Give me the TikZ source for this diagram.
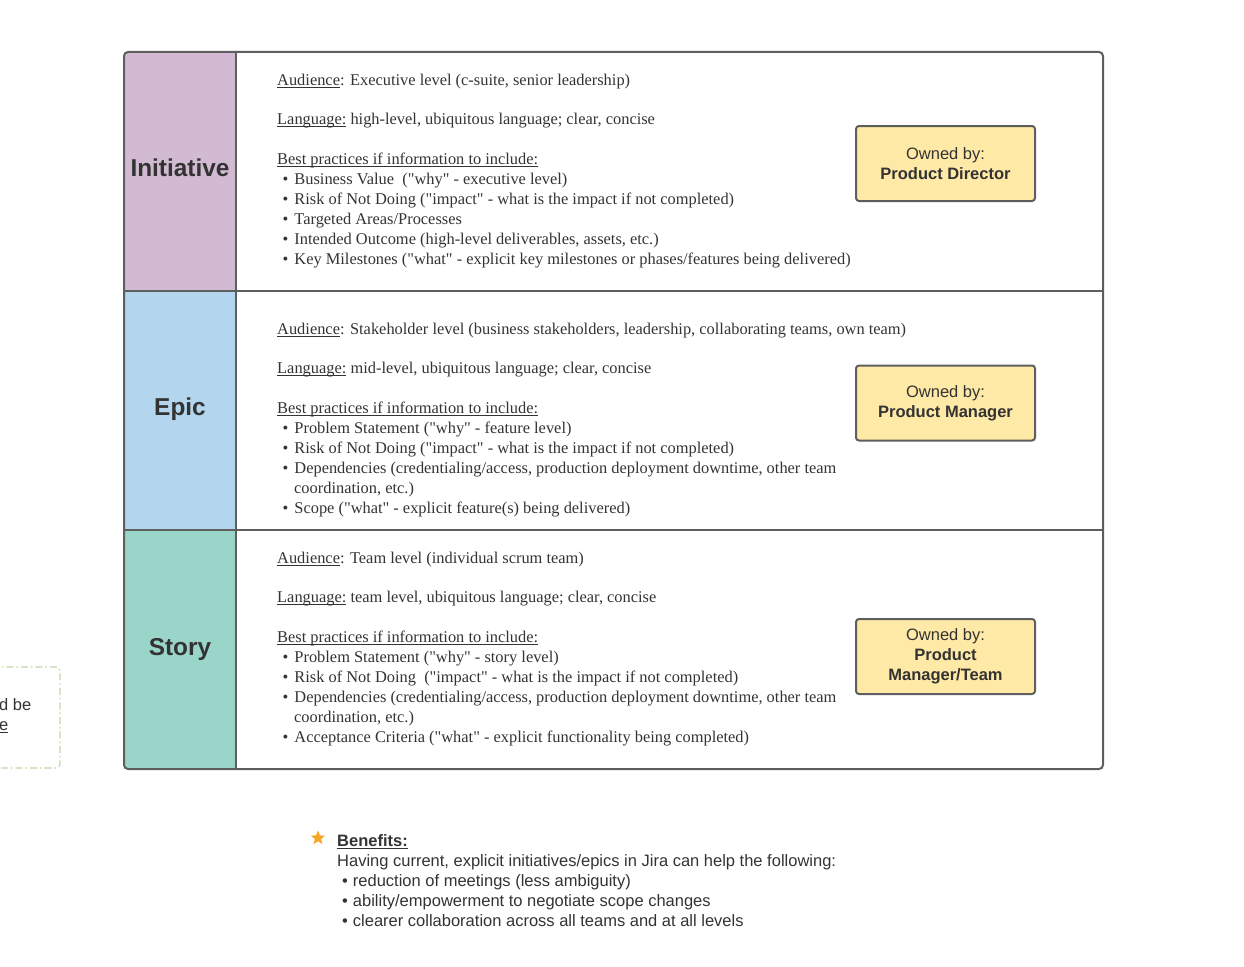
\documentclass[tikz,border=0pt]{standalone}
\usepackage{fontspec}
\setmainfont{Liberation Serif}[Ligatures=TeXOff]
\newfontfamily\sansf{Liberation Sans}
\usetikzlibrary{shapes.geometric}
\definecolor{lineC}{HTML}{5E5E5E}
\definecolor{txtC}{HTML}{333333}
\definecolor{iniC}{HTML}{D2BBD2}
\definecolor{epiC}{HTML}{B3D5EE}
\definecolor{stoC}{HTML}{9AD5CA}
\definecolor{ownC}{HTML}{FFE9A6}
\definecolor{dashC}{HTML}{BFD9A8}
\definecolor{starC}{HTML}{F5A623}
\newcommand\myul[1]{\setbox0\hbox{#1}\rlap{\rule[-2.2pt]{\wd0}{0.7pt}}\box0\relax}
\newcommand\dq{\char34\relax}
\newcommand\bul{\hspace*{5.5pt}\textbullet\hspace{6pt}}
\newcommand\cont{\hspace*{17pt}}
\newcommand\sbul{\hspace*{5pt}\textbullet\hspace{5pt}}
\tikzset{
  tbl/.style={draw=lineC, line width=2pt},
  txt/.style={anchor=base west, inner sep=0pt, text=txtC, font=\fontsize{16.4}{19}\selectfont},
  ttl/.style={anchor=base, inner sep=0pt, text=txtC, font=\sansf\bfseries\fontsize{24.4}{28}\selectfont},
  own/.style={draw=lineC, line width=2pt, fill=ownC, rounded corners=3pt, minimum width=179pt, minimum height=75pt, align=center, text=txtC, font=\sansf\fontsize{16.5}{20}\selectfont},
  bt/.style={anchor=base west, inner sep=0pt, text=txtC, font=\sansf\fontsize{16.5}{20}\selectfont},
}
\begin{document}
\begin{tikzpicture}[x=1pt,y=-1pt]
\useasboundingbox (0,0) rectangle (1244,966);
% table
\begin{scope}
\clip[rounded corners=4pt] (124,52) rectangle (1103,769);
\fill[iniC] (124,52) rectangle (236,291);
\fill[epiC] (124,291) rectangle (236,530);
\fill[stoC] (124,530) rectangle (236,769);
\end{scope}
\draw[tbl, rounded corners=4pt] (124,52) rectangle (1103,769);
\draw[tbl] (236,52) -- (236,769);
\draw[tbl] (124,291) -- (1103,291);
\draw[tbl] (124,530) -- (1103,530);
% titles
\node[ttl] (tI) at (180,176) {Initiative};
\node[ttl] (tE) at (180,415) {Epic};
\node[ttl] (tS) at (180,655) {Story};
% initiative text
\node[txt] (i1) at (277,85) {\myul{Audience}: Executive level (c-suite, senior leadership)};
\node[txt] (i2) at (277,124) {\myul{Language:} high-level, ubiquitous language; clear, concise};
\node[txt] (i3) at (277,164) {\myul{Best practices if information to include:}};
\node[txt] (i4) at (277,184) {\bul Business Value\ \ (\dq why\dq\ - executive level)};
\node[txt] (i5) at (277,204) {\bul Risk of Not Doing (\dq impact\dq\ - what is the impact if not completed)};
\node[txt] (i6) at (277,224) {\bul Targeted Areas/Processes};
\node[txt] (i7) at (277,244) {\bul Intended Outcome (high-level deliverables, assets, etc.)};
\node[txt] (i8) at (277,264) {\bul Key Milestones (\dq what\dq\ - explicit key milestones or phases/features being delivered)};
% epic text
\node[txt] (e1) at (277,334) {\myul{Audience}: Stakeholder level (business stakeholders, leadership, collaborating teams, own team)};
\node[txt] (e2) at (277,373) {\myul{Language:} mid-level, ubiquitous language; clear, concise};
\node[txt] (e3) at (277,413) {\myul{Best practices if information to include:}};
\node[txt] (e4) at (277,433) {\bul Problem Statement (\dq why\dq\ - feature level)};
\node[txt] (e5) at (277,453) {\bul Risk of Not Doing (\dq impact\dq\ - what is the impact if not completed)};
\node[txt] (e6) at (277,473) {\bul Dependencies (credentialing/access, production deployment downtime, other team};
\node[txt] (e7) at (277,493) {\cont coordination, etc.)};
\node[txt] (e8) at (277,513) {\bul Scope (\dq what\dq\ - explicit feature(s) being delivered)};
% story text
\node[txt] (s1) at (277,563) {\myul{Audience}: Team level (individual scrum team)};
\node[txt] (s2) at (277,602) {\myul{Language:} team level, ubiquitous language; clear, concise};
\node[txt] (s3) at (277,642) {\myul{Best practices if information to include:}};
\node[txt] (s4) at (277,662) {\bul Problem Statement (\dq why\dq\ - story level)};
\node[txt] (s5) at (277,682) {\bul Risk of Not Doing\ \ (\dq impact\dq\ - what is the impact if not completed)};
\node[txt] (s6) at (277,702) {\bul Dependencies (credentialing/access, production deployment downtime, other team};
\node[txt] (s7) at (277,722) {\cont coordination, etc.)};
\node[txt] (s8) at (277,742) {\bul Acceptance Criteria (\dq what\dq\ - explicit functionality being completed)};
% owner boxes
\node[own] (oI) at (945.5,163.5) {Owned by:\\\textbf{Product Director}};
\node[own] (oE) at (945.5,403) {Owned by:\\\textbf{Product Manager}};
\node[own] (oS) at (945.5,656.5) {Owned by:\\\textbf{Product}\\\textbf{Manager/Team}};
% left dashed note
\draw[dashC, line width=1.2pt, dash pattern=on 7pt off 3pt on 1.5pt off 3pt, rounded corners=4pt] (-20,667) rectangle (60,768);
\node[bt] (n1) at (-1,710) {d be};
\node[bt] (n2) at (-1,730) {\myul{e}};
% benefits
\node[star, star points=5, star point ratio=2.3, fill=starC, minimum size=15pt, inner sep=0pt] (star) at (318,838) {};
\node[bt] (b0) at (337,846) {\textbf{\myul{Benefits:}}};
\node[bt] (b1) at (337,866) {Having current, explicit initiatives/epics in Jira can help the following:};
\node[bt] (b2) at (337,886) {\sbul reduction of meetings (less ambiguity)};
\node[bt] (b3) at (337,906) {\sbul ability/empowerment to negotiate scope changes};
\node[bt] (b4) at (337,926) {\sbul clearer collaboration across all teams and at all levels};
\end{tikzpicture}
\end{document}
